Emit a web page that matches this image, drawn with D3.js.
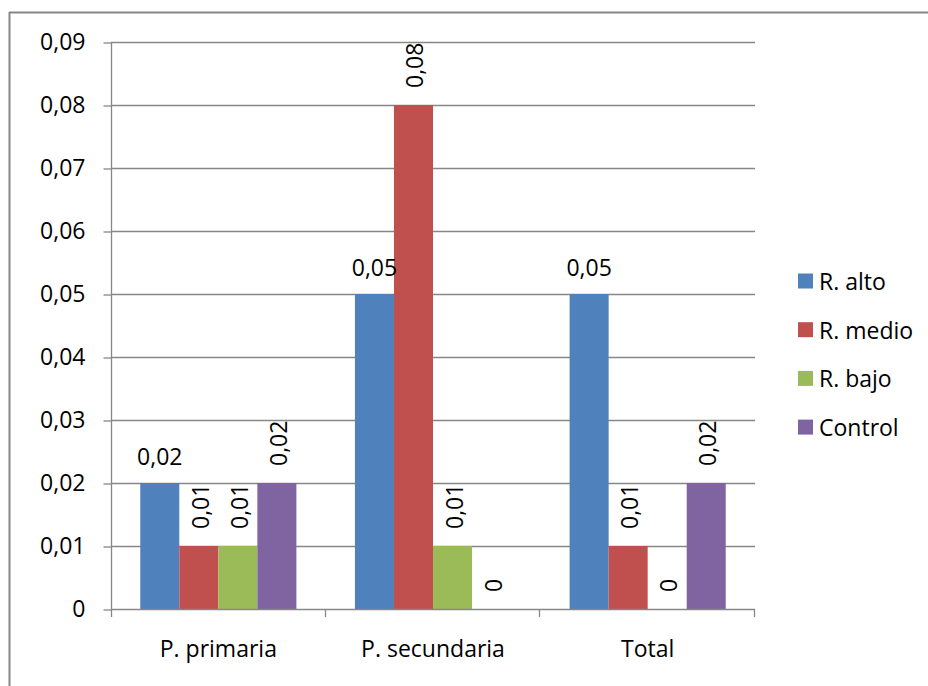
<!DOCTYPE html>
<html>
<head>
<meta charset="utf-8">
<script src="https://cdn.jsdelivr.net/npm/d3@7"></script>
<style>
  html, body { margin: 0; padding: 0; background: #fff; }
  svg { display: block; font-family: "Open Sans", "Noto Sans", sans-serif; }
</style>
</head>
<body>
<svg id="chart" width="928" height="686"></svg>
<script>
// Categories, series and values
const categories = ["P. primaria", "P. secundaria", "Total"];
const seriesNames = ["R. alto", "R. medio", "R. bajo", "Control"];
const rAlto   = [0.02, 0.05, 0.05];
const rMedio  = [0.01, 0.08, 0.01];
const rBajo   = [0.01, 0.01, 0];
const control = [0.02, 0, 0.02];
const yTicks  = [0, 0.01, 0.02, 0.03, 0.04, 0.05, 0.06, 0.07, 0.08, 0.09];
const colors  = ["#4F81BD", "#C0504D", "#9BBB59", "#8064A2"];

const seriesValues = [rAlto, rMedio, rBajo, control];

const svg = d3.select("#chart");
const W = 928, H = 686;
const plot = { left: 111, right: 755, top: 42, bottom: 609 };
const FS = 23;
const gridColor = "#878787";

const locale = d3.formatLocale({ decimal: ",", thousands: ".", grouping: [3], currency: ["", "€"] });
const fmt2 = locale.format(".2f");
const fmt = v => v === 0 ? "0" : fmt2(v);

// Outer frame (left and top edges)
svg.append("line").attr("x1", 9.5).attr("x2", 9.5).attr("y1", 12).attr("y2", H)
  .attr("stroke", gridColor).attr("stroke-width", 2);
svg.append("line").attr("x1", 9).attr("x2", W).attr("y1", 12.5).attr("y2", 12.5)
  .attr("stroke", gridColor).attr("stroke-width", 2);

const x0 = d3.scaleBand().domain(categories).range([plot.left, plot.right]).paddingInner(0).paddingOuter(0);
const x1 = d3.scaleBand().domain(seriesNames).range([0, x0.bandwidth()]).paddingInner(0).paddingOuter(0.75);
const y = d3.scaleLinear().domain([0, 0.09]).range([plot.bottom, plot.top]);

// Horizontal gridlines
svg.append("g").selectAll("line").data(yTicks.filter(t => t > 0)).join("line")
  .attr("x1", plot.left).attr("x2", plot.right)
  .attr("y1", d => Math.round(y(d)) + 0.5).attr("y2", d => Math.round(y(d)) + 0.5)
  .attr("stroke", gridColor).attr("stroke-width", 1.3);

// Y axis
const yAxis = svg.append("g").attr("transform", `translate(${plot.left + 0.5},0.5)`)
  .call(d3.axisLeft(y).tickValues(yTicks).tickFormat(fmt).tickSize(8).tickPadding(18));
yAxis.select(".domain").remove();
yAxis.selectAll(".tick line").attr("stroke", gridColor).attr("stroke-width", 1.3);
yAxis.selectAll(".tick text").attr("font-size", FS).attr("fill", "#000")
  .attr("font-family", "'Open Sans', sans-serif");
svg.append("line").attr("x1", plot.left + 0.5).attr("x2", plot.left + 0.5)
  .attr("y1", plot.top).attr("y2", plot.bottom + 8)
  .attr("stroke", gridColor).attr("stroke-width", 1.3);

// Bars
const groups = svg.append("g").selectAll("g").data(categories).join("g")
  .attr("transform", c => `translate(${x0(c)},0)`);

groups.selectAll("rect")
  .data((c, ci) => seriesNames.map((s, si) => ({ s, si, v: seriesValues[si][ci] })))
  .join("rect")
  .attr("x", d => x1(d.s))
  .attr("width", x1.bandwidth())
  .attr("y", d => y(d.v))
  .attr("height", d => y(0) - y(d.v))
  .attr("fill", d => colors[d.si]);

// Data labels: first series horizontal, others rotated
groups.selectAll("text")
  .data((c, ci) => seriesNames.map((s, si) => ({ s, si, v: seriesValues[si][ci] })))
  .join("text")
  .attr("font-size", FS)
  .attr("fill", "#000")
  .each(function (d) {
    const cx = x1(d.s) + x1.bandwidth() / 2;
    const top = y(d.v);
    const t = d3.select(this).text(fmt(d.v));
    if (d.si === 0) {
      t.attr("x", cx).attr("y", top - 18).attr("text-anchor", "middle");
    } else {
      t.attr("text-anchor", "start").attr("dominant-baseline", "central")
        .attr("transform", `translate(${cx + 1},${top - 17}) rotate(-90)`);
    }
  });

// X axis line and category ticks
svg.append("line").attr("x1", plot.left).attr("x2", plot.right)
  .attr("y1", plot.bottom + 0.5).attr("y2", plot.bottom + 0.5)
  .attr("stroke", gridColor).attr("stroke-width", 1.3);
const xAxis = svg.append("g").attr("transform", `translate(0,${plot.bottom + 0.5})`)
  .call(d3.axisBottom(x0).tickSize(0).tickPadding(31));
xAxis.select(".domain").remove();
xAxis.selectAll(".tick text").attr("font-size", FS).attr("fill", "#000")
  .attr("font-family", "'Open Sans', sans-serif");
const bounds = categories.map(c => x0(c) + x0.bandwidth());
svg.append("g").selectAll("line").data(bounds).join("line")
  .attr("x1", d => Math.round(d) - 0.5).attr("x2", d => Math.round(d) - 0.5)
  .attr("y1", plot.bottom).attr("y2", plot.bottom + 8)
  .attr("stroke", gridColor).attr("stroke-width", 1.3);

// Legend
const legend = svg.append("g").selectAll("g").data(seriesNames).join("g")
  .attr("transform", (d, i) => `translate(798,${281 + i * 48.7})`);
legend.append("rect").attr("x", 0).attr("y", -7.5).attr("width", 15).attr("height", 15)
  .attr("fill", (d, i) => colors[i]);
legend.append("text").attr("x", 21).attr("y", 0).attr("dominant-baseline", "central")
  .attr("font-size", FS).attr("fill", "#000").text(d => d);
</script>
</body>
</html>
